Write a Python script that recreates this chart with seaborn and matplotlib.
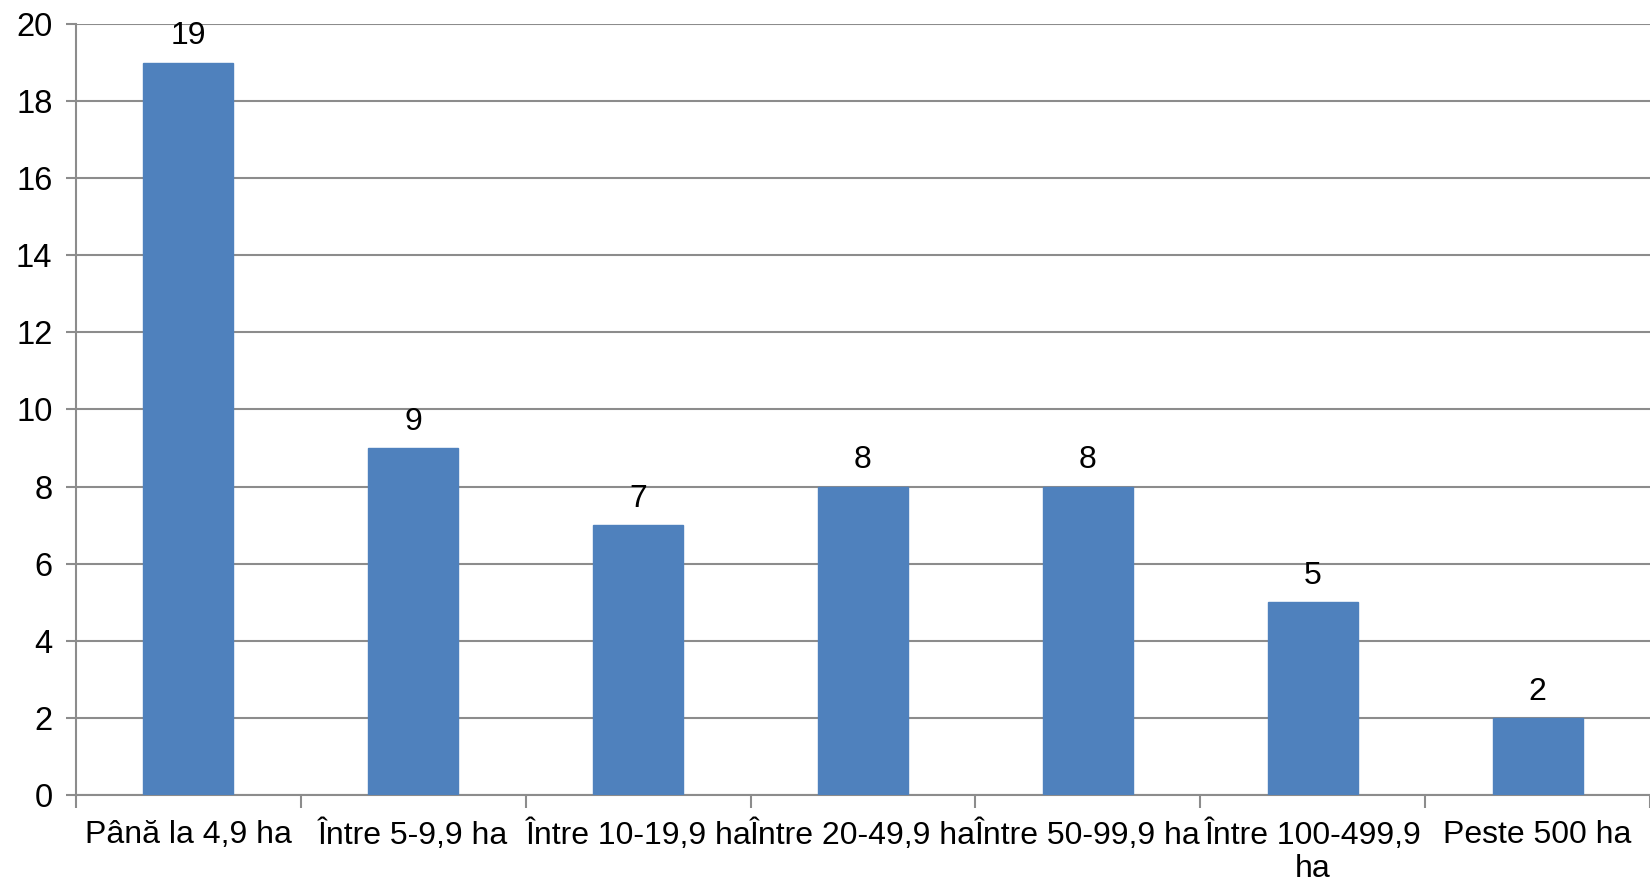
import matplotlib
matplotlib.use("Agg")
import matplotlib.pyplot as plt
import seaborn as sns
import pandas as pd
import numpy as np

categories = ["Până la 4,9 ha", "Între 5-9,9 ha", "Între 10-19,9 ha", "Între 20-49,9 ha",
              "Între 50-99,9 ha", "Între 100-499,9\nha", "Peste 500 ha"]
values = [19, 9, 7, 8, 8, 5, 2]
yticks = [0, 2, 4, 6, 8, 10, 12, 14, 16, 18, 20]

sns.set_theme(style="white")
plt.rcParams['font.family'] = ['Liberation Sans', 'DejaVu Sans']

df = pd.DataFrame({"cat": categories, "val": values})

fig = plt.figure(figsize=(16.5, 8.83), dpi=100)
ax = fig.add_axes([76/1650, 1 - 795/883, 1 - 76/1650, (795 - 24)/883])

sns.barplot(data=df, x="cat", y="val", color="#4F81BD", saturation=1, width=0.4, ax=ax, zorder=3)
for p in ax.patches:
    p.set_edgecolor("#4F81BD")

ax.set_xlim(-0.5, len(categories) - 0.5)
ax.set_ylim(0, 20)
ax.set_yticks(yticks)
ax.set_yticklabels([str(t) for t in yticks], fontsize=23.5, color="black")
ax.set_xlabel("")
ax.set_ylabel("")

ax.yaxis.grid(True, color="#8c8c8c", linewidth=1.5, zorder=0)
ax.set_axisbelow(True)

for s in ["top", "right"]:
    ax.spines[s].set_visible(False)
for s in ["left", "bottom"]:
    ax.spines[s].set_color("#8c8c8c")
    ax.spines[s].set_linewidth(1.5)

ax.tick_params(axis="y", which="major", length=7, width=1.5, color="#8c8c8c", direction="out", left=True, pad=10)
ax.set_xticks(range(len(categories)))
ax.set_xticklabels(categories, fontsize=23, color="black", linespacing=1.1)
ax.set_xticks(np.arange(-0.5, len(categories), 1), minor=True)
ax.tick_params(axis="x", which="minor", length=9, width=1.5, color="#8c8c8c", direction="out", bottom=True)
ax.tick_params(axis="x", which="major", length=0, pad=18)

for i, v in enumerate(values):
    ax.annotate(str(v), (i, v), xytext=(0, 8), textcoords="offset points",
                ha="center", va="bottom", fontsize=23, color="black")

fig.savefig("out.png", dpi=100)
